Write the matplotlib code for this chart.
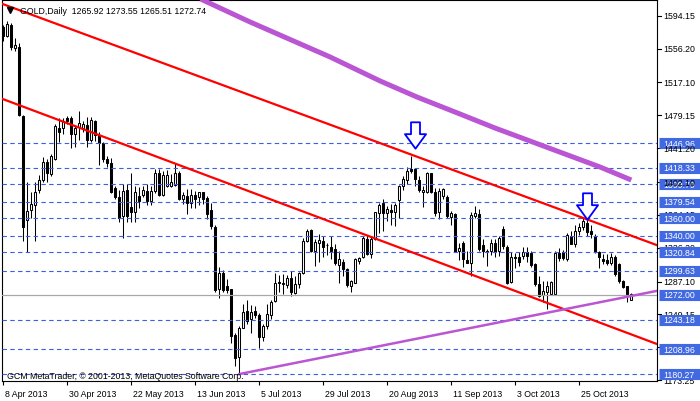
import matplotlib
matplotlib.use('Agg')
import matplotlib.pyplot as plt
import matplotlib.transforms as mtransforms
from matplotlib.path import Path
import numpy as np

plt.rcParams['font.family'] = ['Liberation Sans', 'DejaVu Sans']

# --- daily candles GOLD, 8 Apr 2013 -> mid Nov 2013 ---
opens = [1581, 1571, 1583, 1557, 1558, 1478, 1358, 1370, 1375, 1393,
         1405, 1425, 1411, 1429, 1465, 1464, 1476, 1476, 1457, 1466,
         1465, 1468, 1451, 1472, 1456, 1447, 1429, 1424, 1395, 1385,
         1363, 1393, 1373, 1367, 1386, 1387, 1392, 1380, 1392, 1412,
         1387, 1398, 1398, 1399, 1412, 1382, 1386, 1378, 1387, 1385,
         1390, 1384, 1370, 1350, 1278, 1297, 1282, 1278, 1226, 1200,
         1234, 1253, 1244, 1253, 1249, 1223, 1236, 1249, 1265, 1287,
         1284, 1283, 1291, 1274, 1284, 1297, 1334, 1347, 1322, 1332,
         1334, 1329, 1327, 1325, 1306, 1310, 1302, 1282, 1286, 1311,
         1315, 1336, 1319, 1336, 1366, 1378, 1366, 1370, 1367, 1381,
         1397, 1404, 1417, 1417, 1405, 1391, 1391, 1412, 1391, 1367,
         1386, 1385, 1362, 1365, 1322, 1332, 1312, 1309, 1363, 1365,
         1329, 1323, 1322, 1332, 1322, 1348, 1327, 1287, 1316, 1316,
         1317, 1321, 1320, 1307, 1284, 1272, 1275, 1273, 1273, 1320,
         1321, 1313, 1340, 1330, 1345, 1350, 1355, 1345, 1340, 1321,
         1313, 1312, 1309, 1316, 1307, 1288, 1282, 1265.92]
highs = [1584, 1588, 1586, 1568, 1563, 1479, 1402, 1390, 1402, 1410,
         1431, 1429, 1435, 1469, 1476, 1476, 1478, 1478, 1468, 1484,
         1472, 1477, 1477, 1474, 1460, 1448, 1432, 1430, 1398, 1393,
         1400, 1400, 1413, 1397, 1396, 1398, 1400, 1397, 1417, 1417,
         1415, 1416, 1411, 1424, 1415, 1390, 1394, 1394, 1392, 1391,
         1391, 1386, 1378, 1352, 1304, 1300, 1290, 1279, 1228, 1236,
         1261, 1266, 1260, 1259, 1251, 1238, 1261, 1266, 1297, 1295,
         1296, 1295, 1299, 1293, 1298, 1337, 1348, 1348, 1336, 1342,
         1340, 1332, 1340, 1331, 1322, 1313, 1303, 1289, 1314, 1316,
         1340, 1341, 1339, 1368, 1378, 1383, 1374, 1377, 1378, 1399,
         1409, 1419, 1432, 1418, 1409, 1398, 1414, 1413, 1395, 1395,
         1395, 1387, 1369, 1366, 1332, 1334, 1323, 1367, 1374, 1371,
         1336, 1325, 1336, 1336, 1340, 1351, 1329, 1321, 1320, 1321,
         1327, 1327, 1323, 1309, 1293, 1288, 1288, 1288, 1323, 1326,
         1324, 1343, 1345, 1352, 1355, 1362, 1359, 1353, 1342, 1322,
         1319, 1319, 1320, 1318, 1309, 1289, 1282, 1273.55]
lows = [1565, 1569, 1555, 1553, 1478, 1334, 1321, 1360, 1334, 1389,
        1402, 1402, 1409, 1427, 1448, 1458, 1469, 1441, 1443, 1451,
        1460, 1442, 1448, 1450, 1422, 1425, 1419, 1389, 1383, 1356,
        1337, 1356, 1356, 1356, 1372, 1385, 1375, 1376, 1389, 1386,
        1386, 1396, 1396, 1398, 1381, 1377, 1365, 1372, 1372, 1376,
        1377, 1359, 1348, 1275, 1268, 1275, 1274, 1216, 1190, 1180,
        1233, 1238, 1228, 1245, 1210, 1218, 1232, 1244, 1264, 1275,
        1273, 1280, 1271, 1273, 1280, 1296, 1333, 1321, 1305, 1310,
        1316, 1318, 1313, 1306, 1285, 1294, 1281, 1275, 1285, 1307,
        1314, 1318, 1314, 1335, 1343, 1346, 1357, 1353, 1351, 1361,
        1393, 1400, 1412, 1398, 1390, 1373, 1389, 1389, 1363, 1359,
        1383, 1361, 1353, 1321, 1312, 1304, 1308, 1293, 1360, 1322,
        1316, 1305, 1318, 1315, 1317, 1325, 1284, 1286, 1303, 1305,
        1313, 1310, 1304, 1282, 1269, 1264, 1256, 1272, 1272, 1311,
        1312, 1311, 1330, 1327, 1341, 1347, 1340, 1338, 1320, 1303,
        1307, 1306, 1306, 1294, 1286, 1280, 1264, 1265.51]
closes = [1571, 1585, 1558, 1560, 1480, 1350, 1369, 1377, 1391, 1404,
          1425, 1413, 1432, 1467, 1460, 1473, 1472, 1457, 1465, 1470,
          1469, 1451, 1474, 1456, 1447, 1429, 1424, 1390, 1385, 1360,
          1392, 1363, 1367, 1390, 1380, 1393, 1380, 1392, 1412, 1387,
          1410, 1410, 1402, 1412, 1382, 1387, 1378, 1387, 1383, 1390,
          1383, 1365, 1351, 1277, 1297, 1277, 1277, 1224, 1199, 1234,
          1252, 1242, 1252, 1248, 1223, 1236, 1250, 1263, 1285, 1285,
          1286, 1291, 1275, 1284, 1297, 1334, 1346, 1322, 1333, 1335,
          1327, 1329, 1323, 1309, 1313, 1302, 1283, 1288, 1313, 1314,
          1337, 1319, 1336, 1367, 1376, 1366, 1371, 1367, 1375, 1397,
          1406, 1415, 1415, 1406, 1393, 1393, 1413, 1390, 1366, 1392,
          1394, 1363, 1366, 1321, 1326, 1313, 1309, 1364, 1366, 1325,
          1322, 1321, 1332, 1321, 1337, 1328, 1286, 1315, 1314, 1310,
          1321, 1317, 1306, 1284, 1271, 1276, 1282, 1287, 1320, 1314,
          1314, 1341, 1331, 1346, 1350, 1357, 1344, 1342, 1321, 1315,
          1311, 1309, 1315, 1296, 1288, 1281, 1271, 1272.74]

tick_bars = [0, 16, 32, 48, 64, 80, 96, 112, 128, 144]
tick_labels = ['8 Apr 2013', '30 Apr 2013', '22 May 2013', '13 Jun 2013', '5 Jul 2013',
               '29 Jul 2013', '20 Aug 2013', '11 Sep 2013', '3 Oct 2013', '25 Oct 2013']

# niveaux horizontaux (pointillés bleus) + niveau gris
blue_levels = [1446.96, 1418.33, 1399.79, 1379.54, 1360.00, 1340.00, 1320.84,
               1299.63, 1243.18, 1208.96, 1180.27]
gray_level = 1272.00
scale_levels = [1594.15, 1556.20, 1517.10, 1479.15, 1441.20, 1402.10, 1364.15,
                1326.20, 1287.10, 1249.15, 1211.20, 1173.25]

# lignes de tendance (barre, prix)
red_upper = [(0, 1607.4), (157, 1340.1)]
red_lower = [(0, 1497.7), (157, 1226.1)]
purple_support = [(59, 1180.3), (157, 1270.5)]

# moyenne mobile épaisse (points relevés)
ma_bars = [47.9, 61.7, 81.7, 94.2, 103.4, 114.2, 122.9, 149.2, 157]
ma_vals = [1616.5, 1586.9, 1546.5, 1518.8, 1500.3, 1480.6, 1464.5, 1419.4, 1404.4]

# flèches
arrow_bars = [103, 146]
arrow_prices = [1456.4, 1374.4]

W, H = 700, 402
fig = plt.figure(figsize=(W / 100, H / 100), dpi=100)
ax = fig.add_axes([2 / W, (H - 382) / H, 655 / W, 381 / H])
ax.set_xlim(-0.325, 163.425)
ax.set_ylim(1172.3, 1612.3)

o = np.array(opens, float)
h = np.array(highs, float)
l = np.array(lows, float)
c = np.array(closes, float)
idx = np.arange(len(o))
up = c >= o
bot = np.minimum(o, c)
hgt = np.maximum(np.abs(c - o), 0.5)

ax.vlines(idx, l, h, color='black', lw=0.75, zorder=2)
ax.bar(idx[up], hgt[up], bottom=bot[up], width=0.5, facecolor='white',
       edgecolor='black', linewidth=0.75, zorder=2.5)
ax.bar(idx[~up], hgt[~up], bottom=bot[~up], width=0.5, facecolor='black',
       edgecolor='black', linewidth=0.75, zorder=2.5)

for lvl in blue_levels:
    ax.axhline(lvl, color='#3D5FE0', lw=0.8, ls=(0, (4, 3)), zorder=3)
ax.axhline(gray_level, color='#A8A8A8', lw=0.9, zorder=3)

ax.axline(red_upper[0], red_upper[1], color='#FF0000', lw=1.6, zorder=4)
ax.axline(red_lower[0], red_lower[1], color='#FF0000', lw=1.6, zorder=4)

(b1, p1), (b2, p2) = purple_support
slope = (p2 - p1) / (b2 - b1)
xr = ax.get_xlim()[1]
ax.plot([b1, xr], [p1, p1 + slope * (xr - b1)], color='#BA55D3', lw=1.8, zorder=4)

ax.plot(ma_bars, ma_vals, color='#BA55D3', lw=3.6, solid_capstyle='butt', zorder=3)

arrow = Path([(-0.34, 1), (0.34, 1), (0.34, 0.1), (0.8, 0.1), (0, -1),
              (-0.8, 0.1), (-0.34, 0.1), (-0.34, 1)], closed=True)
ax.plot(arrow_bars, arrow_prices, ls='none', marker=arrow, markersize=19,
        mfc='white', mec='#0000FF', mew=1.3, zorder=6)

# axes
for s in ax.spines.values():
    s.set_linewidth(0.8)
    s.set_color('black')
ax.set_yticks([])
ax.set_xticks(tick_bars)
ax.set_xticklabels(tick_labels)
ax.tick_params(axis='x', direction='out', length=3, width=0.8, pad=2.5, labelsize=6.3)
shift = mtransforms.ScaledTranslation(2 / 100, 0, fig.dpi_scale_trans)
for lab in ax.get_xticklabels():
    lab.set_horizontalalignment('left')
    lab.set_transform(lab.get_transform() + shift)

trans = mtransforms.blended_transform_factory(ax.transAxes, ax.transData)
px = 1 / 655
on_top = [1441.20, 1402.10]
for lvl in scale_levels:
    ax.plot([1, 1 + 4 * px], [lvl, lvl], transform=trans, color='black', lw=0.8,
            clip_on=False, zorder=4)
    ax.text(1 + 6 * px, lvl, f'{lvl:.2f}', transform=trans, va='center', ha='left',
            fontsize=6.3, color='black', clip_on=False,
            zorder=7 if lvl in on_top else 4)
for lvl in blue_levels + [gray_level]:
    ax.plot([1 + 2 * px, 1 + 45 * px], [lvl, lvl], transform=trans, color='#4169E1',
            lw=8, solid_capstyle='butt', clip_on=False, zorder=5)
    ax.text(1 + 6 * px, lvl, f'{lvl:.2f}', transform=trans, va='center', ha='left',
            fontsize=6.3, color='white', clip_on=False, zorder=6)

# textes
ax.plot([7.5 * px], [1 - 10 / 381], transform=ax.transAxes, marker='v', ms=4,
        color='black', clip_on=False, zorder=7)
fig.text(20 / W, 1 - 11 / H, 'GOLD,Daily  1265.92 1273.55 1265.51 1272.74',
         fontsize=6.3, va='center', ha='left', color='black')
fig.text(7 / W, 1 - 377 / H, 'GCM MetaTrader, © 2001-2013, MetaQuotes Software Corp.',
         fontsize=6.3, va='center', ha='left', color='black')

fig.savefig('out.png', dpi=100)
